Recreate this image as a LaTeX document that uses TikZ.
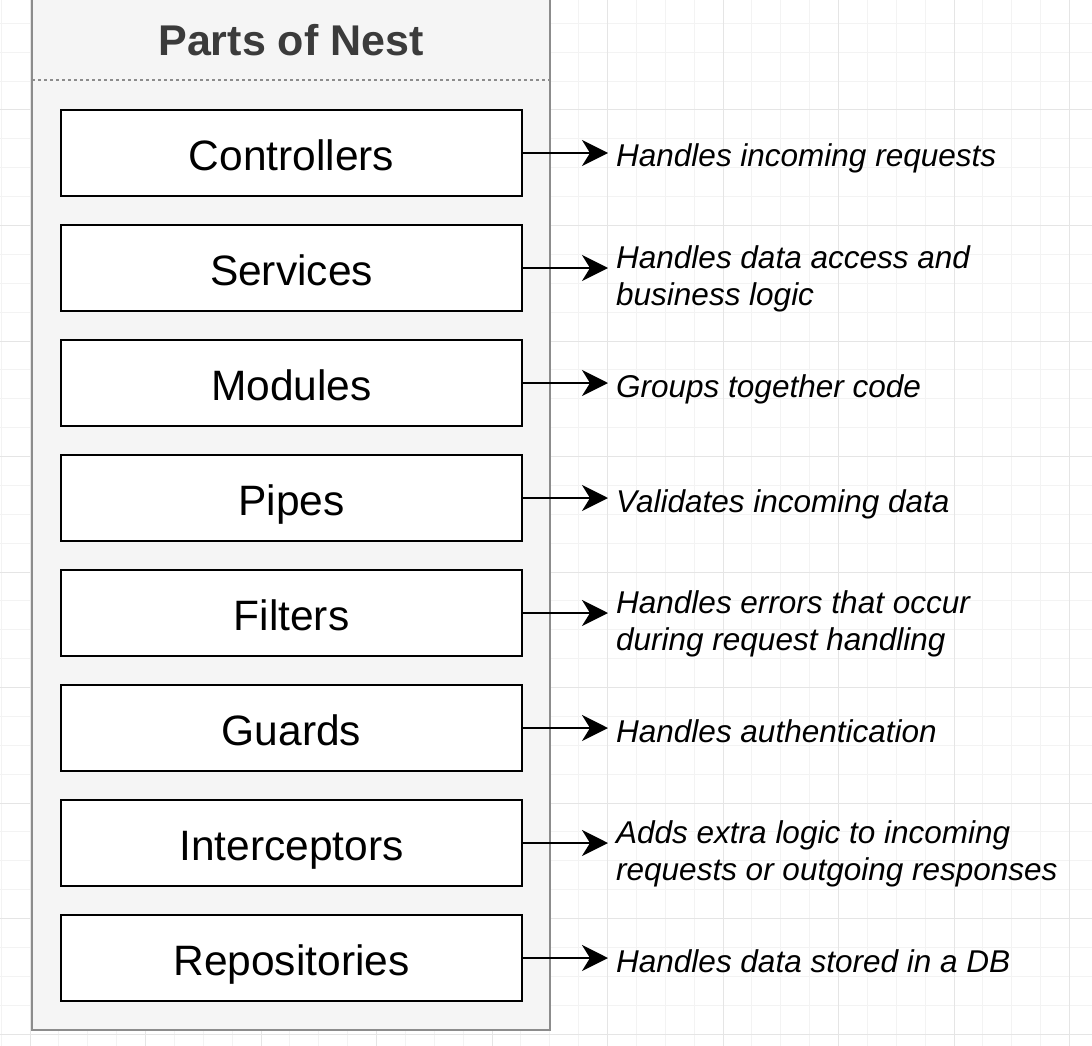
\documentclass[tikz,border=0pt]{standalone}
\usepackage{fontspec}
\setmainfont{Liberation Sans}
\usetikzlibrary{positioning}
\usetikzlibrary{arrows.meta}
\definecolor{gridminor}{HTML}{F3F3F3}
\definecolor{gridmajor}{HTML}{E5E5E5}
\definecolor{lanefill}{HTML}{F5F5F5}
\definecolor{laneline}{HTML}{8C8C8C}
\definecolor{titlegray}{HTML}{3B3B3B}
\tikzset{part node/.style={rectangle,draw,fill=white,line width=2.5pt,minimum width=461pt,minimum height=86pt, inner sep=0pt,outer sep=0pt,font=\fontsize{42.5}{50}\selectfont,text height=34pt,text depth=0pt},}
\tikzset{desc node/.style={inner sep=0pt,align=left,font=\fontsize{31.5}{37}\selectfont\itshape,text height=28pt,text depth=0pt},}
\tikzset{two lines/.style={text height=74pt,text depth=0pt},}
\tikzset{desc arrow/.style={line width=2.2pt,-{Stealth[length=26pt,width=26pt,inset=8pt]},shorten >=8pt},}

\begin{document}
\begin{tikzpicture}[x=1pt,y=-1pt]
          \useasboundingbox (0,0) rectangle (1092,1046);
          \fill[white] (0,0) rectangle (1092,1046);
          % grid
          \foreach \k in {0,...,37} {
            \draw[gridminor,line width=1pt] (1.125+28.875*\k,0) -- (1.125+28.875*\k,1046);
            \draw[gridminor,line width=1pt] (0,-5.5+28.875*\k) -- (1092,-5.5+28.875*\k);
          }
          \foreach \k in {0,...,9} {
            \draw[gridmajor,line width=1pt] (30+115.5*\k,0) -- (30+115.5*\k,1046);
            \draw[gridmajor,line width=1pt] (0,-5.5+115.5*\k) -- (1092,-5.5+115.5*\k);
          }

          % container
          \draw[laneline,fill=lanefill,line width=2pt] (32,-10) rectangle (550,1030);
          \draw[laneline,dashed,line width=1.5pt] (32,80) -- (550,80);
          \node[font=\fontsize{43}{50}\selectfont\bfseries,text=titlegray,text height=31pt,text depth=0pt] (title) at (291,40) {Parts of Nest};

          \node[part node] (ctrl) at (291.5,153) {Controllers};
          \node[part node] (serv) [below = 29pt of ctrl] {Services};
          \node[part node] (mod) [below = 29pt of serv] {Modules};
          \node[part node] (pipe) [below = 29pt of mod] {Pipes};
          \node[part node] (filt) [below = 29pt of pipe] {Filters};
          \node[part node] (guard) [below = 29pt of filt] {Guards};
          \node[part node] (icpt) [below = 29pt of guard] {Interceptors};
          \node[part node] (repo) [below = 29pt of icpt] {Repositories};

          \node[desc node] (ctrl-d) [right = 94pt of ctrl] {Handles incoming requests};
          \node[desc node,two lines] (serv-d) [right = 94pt of serv] {Handles data access and\\business logic};
          \node[desc node] (mod-d) [right = 94pt of mod] {Groups together code};
          \node[desc node] (pipe-d) [right = 94pt of pipe] {Validates incoming data};
          \node[desc node,two lines] (filt-d) [right = 94pt of filt] {Handles errors that occur\\during request handling};
          \node[desc node] (guard-d) [right = 94pt of guard] {Handles authentication};
          \node[desc node,two lines] (icpt-d) [right = 94pt of icpt] {Adds extra logic to incoming\\requests or outgoing responses};
          \node[desc node] (repo-d) [right = 94pt of repo] {Handles data stored in a DB};

          \path[desc arrow]
          (ctrl) edge (ctrl-d)
          (serv) edge (serv-d)
          (mod) edge (mod-d)
          (pipe) edge (pipe-d)
          (filt) edge (filt-d)
          (guard) edge (guard-d)
          (icpt) edge (icpt-d)
          (repo) edge (repo-d);
        \end{tikzpicture}
\end{document}
